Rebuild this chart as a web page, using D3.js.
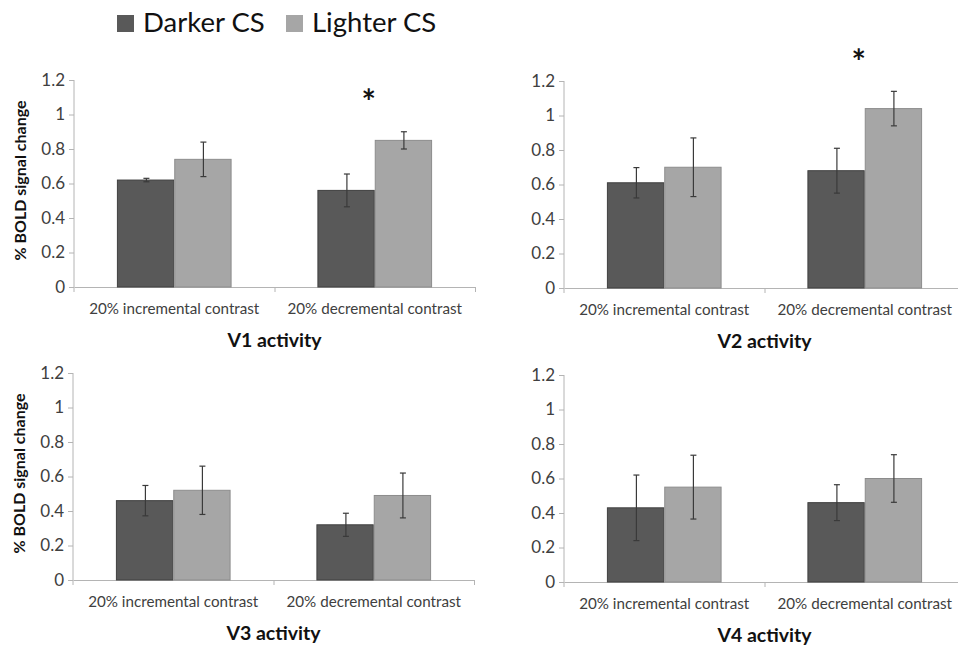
<!DOCTYPE html>
<html>
<head>
<meta charset="utf-8">
<script src="https://cdn.jsdelivr.net/npm/d3@7"></script>
<style>
  body { margin: 0; background: #fff; }
  svg { display: block; font-family: Lato, "Open Sans", sans-serif; }
</style>
</head>
<body>
<div id="chart"></div>
<script>
// values
var categories = ['20% incremental contrast', '20% decremental contrast'];
var series = ['Darker CS', 'Lighter CS'];
var regions = ['V1 activity', 'V2 activity', 'V3 activity', 'V4 activity'];

var darker = [[0.62, 0.56], [0.61, 0.68], [0.46, 0.32], [0.43, 0.46]];
var darker_err = [[0.01, 0.095], [0.088, 0.13], [0.088, 0.067], [0.19, 0.104]];
var lighter = [[0.74, 0.85], [0.70, 1.04], [0.52, 0.49], [0.55, 0.60]];
var lighter_err = [[0.10, 0.05], [0.17, 0.10], [0.14, 0.13], [0.185, 0.138]];
var significant = [[false, true], [false, true], [false, false], [false, false]];

var y_ticks = [0, 0.2, 0.4, 0.6, 0.8, 1, 1.2];

var settings = {
  width: 958,
  height: 646,
  plot_width: 401,
  plot_height: 207,
  dark_fill: '#595959',
  dark_stroke: '#404040',
  light_fill: '#a6a6a6',
  light_stroke: '#8c8c8c',
  axis_color: '#b4b4b4',
  text_color: '#404040',
  err_color: '#3a3a3a',
  cap: 3
};

// panel origins (left edge of axis, top = 1.2 line)
var panels = [
  {x: 74, y: 80, showYLabel: true},
  {x: 564, y: 81, showYLabel: false},
  {x: 73, y: 373, showYLabel: true},
  {x: 564, y: 375, showYLabel: false}
];

var svg = d3.select('#chart').append('svg')
  .attr('width', settings.width)
  .attr('height', settings.height);

// legend
var legend = svg.append('g').attr('class', 'legend');
var legend_x = [117, 286];
series.forEach(function(s, i) {
  legend.append('rect')
    .attr('x', legend_x[i]).attr('y', 15)
    .attr('width', 17).attr('height', 17)
    .style('fill', i === 0 ? settings.dark_fill : settings.light_fill);
  legend.append('text')
    .attr('x', legend_x[i] + 26).attr('y', 32)
    .style('font-size', '27.5px')
    .style('fill', '#111')
    .text(s);
});

var x0 = d3.scaleBand()
  .domain(categories)
  .range([0, settings.plot_width])
  .paddingInner(0.428)
  .paddingOuter(0.214);

var x1 = d3.scaleBand()
  .domain(series)
  .range([0, x0.bandwidth()]);

var y = d3.scaleLinear()
  .domain([0, 1.2])
  .range([settings.plot_height, 0]);

var xEdges = d3.scaleLinear()
  .domain([0, categories.length])
  .range([0, settings.plot_width]);

regions.forEach(function(region, r) {
  var p = panels[r];
  var g = svg.append('g')
    .attr('transform', 'translate(' + p.x + ',' + p.y + ')');

  // y axis
  var yAxis = g.append('g')
    .call(d3.axisLeft(y).tickValues(y_ticks).tickSize(5).tickSizeOuter(0).tickPadding(4)
      .tickFormat(function(d) { return d3.format('~g')(d); }));
  yAxis.select('.domain').attr('d', 'M0,0V' + (settings.plot_height + 5))
    .style('stroke', settings.axis_color);
  yAxis.selectAll('.tick line').style('stroke', settings.axis_color);
  yAxis.selectAll('.tick text')
    .style('font-size', '17px')
    .style('font-family', 'Lato, sans-serif')
    .style('fill', settings.text_color);

  // x axis (ticks at category edges)
  var xAxis = g.append('g')
    .attr('transform', 'translate(0,' + settings.plot_height + ')')
    .call(d3.axisBottom(xEdges).tickValues([1, 2]).tickSize(5).tickSizeOuter(0).tickFormat(''));
  xAxis.select('.domain').style('stroke', settings.axis_color);
  xAxis.selectAll('.tick line').style('stroke', settings.axis_color);

  // category labels
  g.selectAll('text.cat')
    .data(categories)
    .enter().append('text')
    .attr('class', 'cat')
    .attr('x', function(d) { return x0(d) + x0.bandwidth() / 2; })
    .attr('y', settings.plot_height + 27)
    .style('text-anchor', 'middle')
    .style('font-size', '15.2px')
    .style('fill', settings.text_color)
    .text(function(d) { return d; });

  // bars
  var rows = categories.map(function(c, i) {
    return {
      cat: c,
      idx: i,
      vals: [
        {s: series[0], v: darker[r][i], e: darker_err[r][i]},
        {s: series[1], v: lighter[r][i], e: lighter_err[r][i]}
      ]
    };
  });

  var group = g.selectAll('g.group')
    .data(rows)
    .enter().append('g')
    .attr('class', 'group')
    .attr('transform', function(d) { return 'translate(' + x0(d.cat) + ',0)'; });

  group.selectAll('rect')
    .data(function(d) { return d.vals; })
    .enter().append('rect')
    .attr('x', function(d) { return x1(d.s) + 0.5; })
    .attr('y', function(d) { return y(d.v); })
    .attr('width', x1.bandwidth() - 1)
    .attr('height', function(d) { return settings.plot_height - y(d.v); })
    .style('fill', function(d) { return d.s === series[0] ? settings.dark_fill : settings.light_fill; })
    .style('stroke', function(d) { return d.s === series[0] ? settings.dark_stroke : settings.light_stroke; })
    .style('stroke-width', 1);

  // error bars
  var err = group.selectAll('g.err')
    .data(function(d) { return d.vals; })
    .enter().append('g')
    .attr('class', 'err')
    .style('stroke', settings.err_color)
    .style('stroke-width', 1.2);

  var cx = function(d) { return Math.round(x1(d.s) + x1.bandwidth() / 2) + 0.5; };

  err.append('line')
    .attr('x1', cx).attr('x2', cx)
    .attr('y1', function(d) { return y(d.v + d.e); })
    .attr('y2', function(d) { return y(d.v - d.e); });
  err.append('line')
    .attr('x1', function(d) { return cx(d) - settings.cap; })
    .attr('x2', function(d) { return cx(d) + settings.cap; })
    .attr('y1', function(d) { return y(d.v + d.e); })
    .attr('y2', function(d) { return y(d.v + d.e); });
  err.append('line')
    .attr('x1', function(d) { return cx(d) - settings.cap; })
    .attr('x2', function(d) { return cx(d) + settings.cap; })
    .attr('y1', function(d) { return y(d.v - d.e); })
    .attr('y2', function(d) { return y(d.v - d.e); });

  // significance stars
  group.filter(function(d) { return significant[r][d.idx]; })
    .append('text')
    .attr('x', x0.bandwidth() / 2 - 6)
    .attr('y', function(d) { return y(d.vals[1].v + d.vals[1].e + 0.2) + 17; })
    .style('text-anchor', 'middle')
    .style('font-size', '34px')
    .style('font-weight', 'bold')
    .style('fill', '#111')
    .text('*');

  // panel title
  g.append('text')
    .attr('x', settings.plot_width / 2)
    .attr('y', settings.plot_height + 60)
    .style('text-anchor', 'middle')
    .style('font-size', '19.5px')
    .style('font-weight', 'bold')
    .style('fill', '#111')
    .text(region);

  if (p.showYLabel) {
    g.append('text')
      .attr('transform', 'translate(' + (-48) + ',' + (settings.plot_height / 2 - 3) + ') rotate(-90)')
      .style('text-anchor', 'middle')
      .style('font-size', '16px')
      .style('font-weight', 'bold')
      .style('fill', '#111')
      .text('% BOLD signal change');
  }
});
</script>
</body>
</html>
